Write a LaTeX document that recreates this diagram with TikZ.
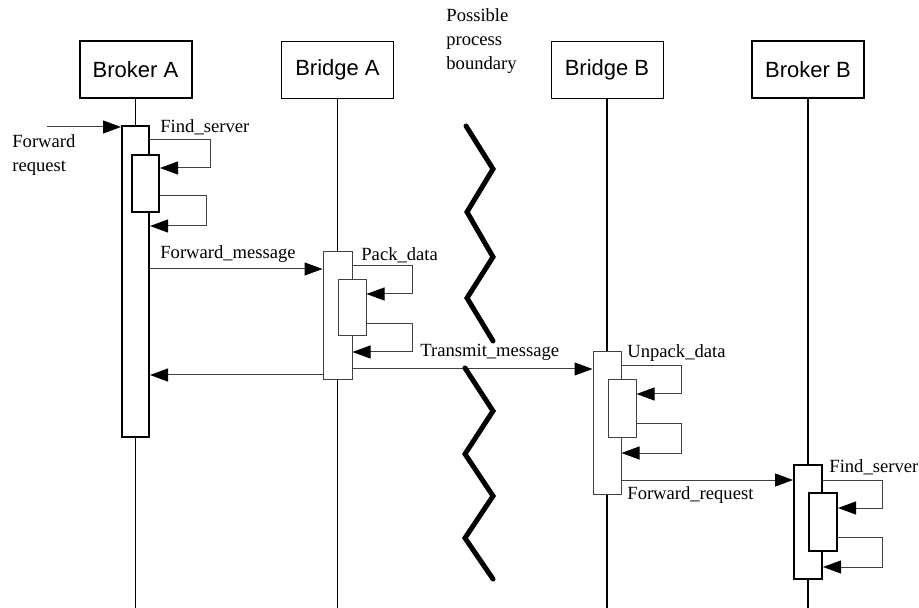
\documentclass[tikz,border=0pt]{standalone}
\usepackage{fontspec}
\setmainfont{Liberation Serif}
\setsansfont{Liberation Sans}
\usepackage{tikz}
\usetikzlibrary{arrows.meta,fit}

\begin{document}
\begin{tikzpicture}[
  x=0.5pt, y=-0.5pt,
  head/.style={draw, rectangle, minimum width=56pt, minimum height=28.5pt, font=\sffamily\fontsize{11}{13}\selectfont},
  thickhead/.style={head, line width=1pt},
  bar/.style={draw=black!75, fill=white, rectangle, inner sep=0pt, line width=0.5pt},
  thickbar/.style={bar, draw=black, line width=1pt},
  lifeline/.style={line width=0.75pt},
  msg/.style={draw=black!75, line width=0.5pt, -{Triangle[length=9pt,width=6.5pt,color=black]}},
  txt/.style={anchor=west, inner sep=0pt, align=left, font=\fontsize{9.3}{12.2}\selectfont},
  boundary/.style={line width=2.5pt, line cap=round, line join=miter}
]
\useasboundingbox (0,0) rectangle (919,608);

\node[thickhead] (brokerA) at (135.5,69.5) {Broker A};
\node[head] (bridgeA) at (337.5,69.5) {Bridge A};
\node[head] (bridgeB) at (607,69.5) {Bridge B};
\node[thickhead] (brokerB) at (808,69.5) {Broker B};

\draw[lifeline] (brokerA.south) -- (brokerA |- 0,608);
\draw[lifeline] (bridgeA.south) -- (bridgeA |- 0,608);
\draw[lifeline] (bridgeB.south) -- (bridgeB |- 0,608);
\draw[lifeline] (brokerB.south) -- (brokerB |- 0,608);

\node[thickbar, fit={(122,126) (149,437)}] (brokerAact) {};
\node[thickbar, fit={(132,155) (159,212)}] (brokerAsub) {};
\node[bar, fit={(323,252) (352,380)}] (bridgeAact) {};
\node[bar, fit={(338,280) (366,336)}] (bridgeAsub) {};
\node[bar, fit={(593,352) (621,494)}] (bridgeBact) {};
\node[bar, fit={(608,380) (636,437)}] (bridgeBsub) {};
\node[thickbar, fit={(794,465) (822,579)}] (brokerBact) {};
\node[thickbar, fit={(809,493) (837,551)}] (brokerBsub) {};

\coordinate (reqin) at (47,127);
\draw[msg] (reqin) -- (brokerAact.west |- 0,127);
\node[txt] (reqtxt) at (12,155) {Forward\\request};

\draw[msg] (brokerAact.east |- 0,140) -- ++(60,0) |- (brokerAsub.east |- 0,168);
\draw[msg] (brokerAsub.east |- 0,196) -- ++(46,0) |- (brokerAact.east |- 0,226);
\node[txt] (findA) at (160,127) {Find\_server};

\draw[msg] (brokerAact.east |- 0,269) -- (bridgeAact.west |- 0,269);
\node[txt] (fwdmsg) at (160,254) {Forward\_message};

\draw[msg] (bridgeAact.east |- 0,266) -- ++(60,0) |- (bridgeAsub.east |- 0,294);
\draw[msg] (bridgeAsub.east |- 0,324) -- ++(46,0) |- (bridgeAact.east |- 0,352);
\node[txt] (pack) at (361,255) {Pack\_data};

\draw[msg] (bridgeAact.west |- 0,375) -- (brokerAact.east |- 0,375);
\draw[msg] (bridgeAact.east |- 0,369) -- (bridgeBact.west |- 0,369);
\node[txt] (transmit) at (420,352) {Transmit\_message};

\draw[msg] (bridgeBact.east |- 0,366) -- ++(60,0) |- (bridgeBsub.east |- 0,394);
\draw[msg] (bridgeBsub.east |- 0,423) -- ++(45,0) |- (bridgeBact.east |- 0,453);
\node[txt] (unpack) at (627,353) {Unpack\_data};

\draw[msg] (bridgeBact.east |- 0,480) -- (brokerBact.west |- 0,480);
\node[txt] (fwdreq) at (627,495) {Forward\_request};

\draw[msg] (brokerBact.east |- 0,480) -- ++(59,0) |- (brokerBsub.east |- 0,508);
\draw[msg] (brokerBsub.east |- 0,537) -- ++(44,0) |- (brokerBact.east |- 0,567);
\node[txt] (findB) at (829,467) {Find\_server};

\node[txt] (bound) at (446,41) {Possible\\process\\boundary};
\draw[boundary] (466,126) -- (493,169) -- (467,212) -- (493,257) -- (467,298) -- (493,341);
\draw[boundary] (465,368) -- (493,411) -- (465,454) -- (493,496) -- (465,538) -- (493,579);
\end{tikzpicture}
\end{document}
